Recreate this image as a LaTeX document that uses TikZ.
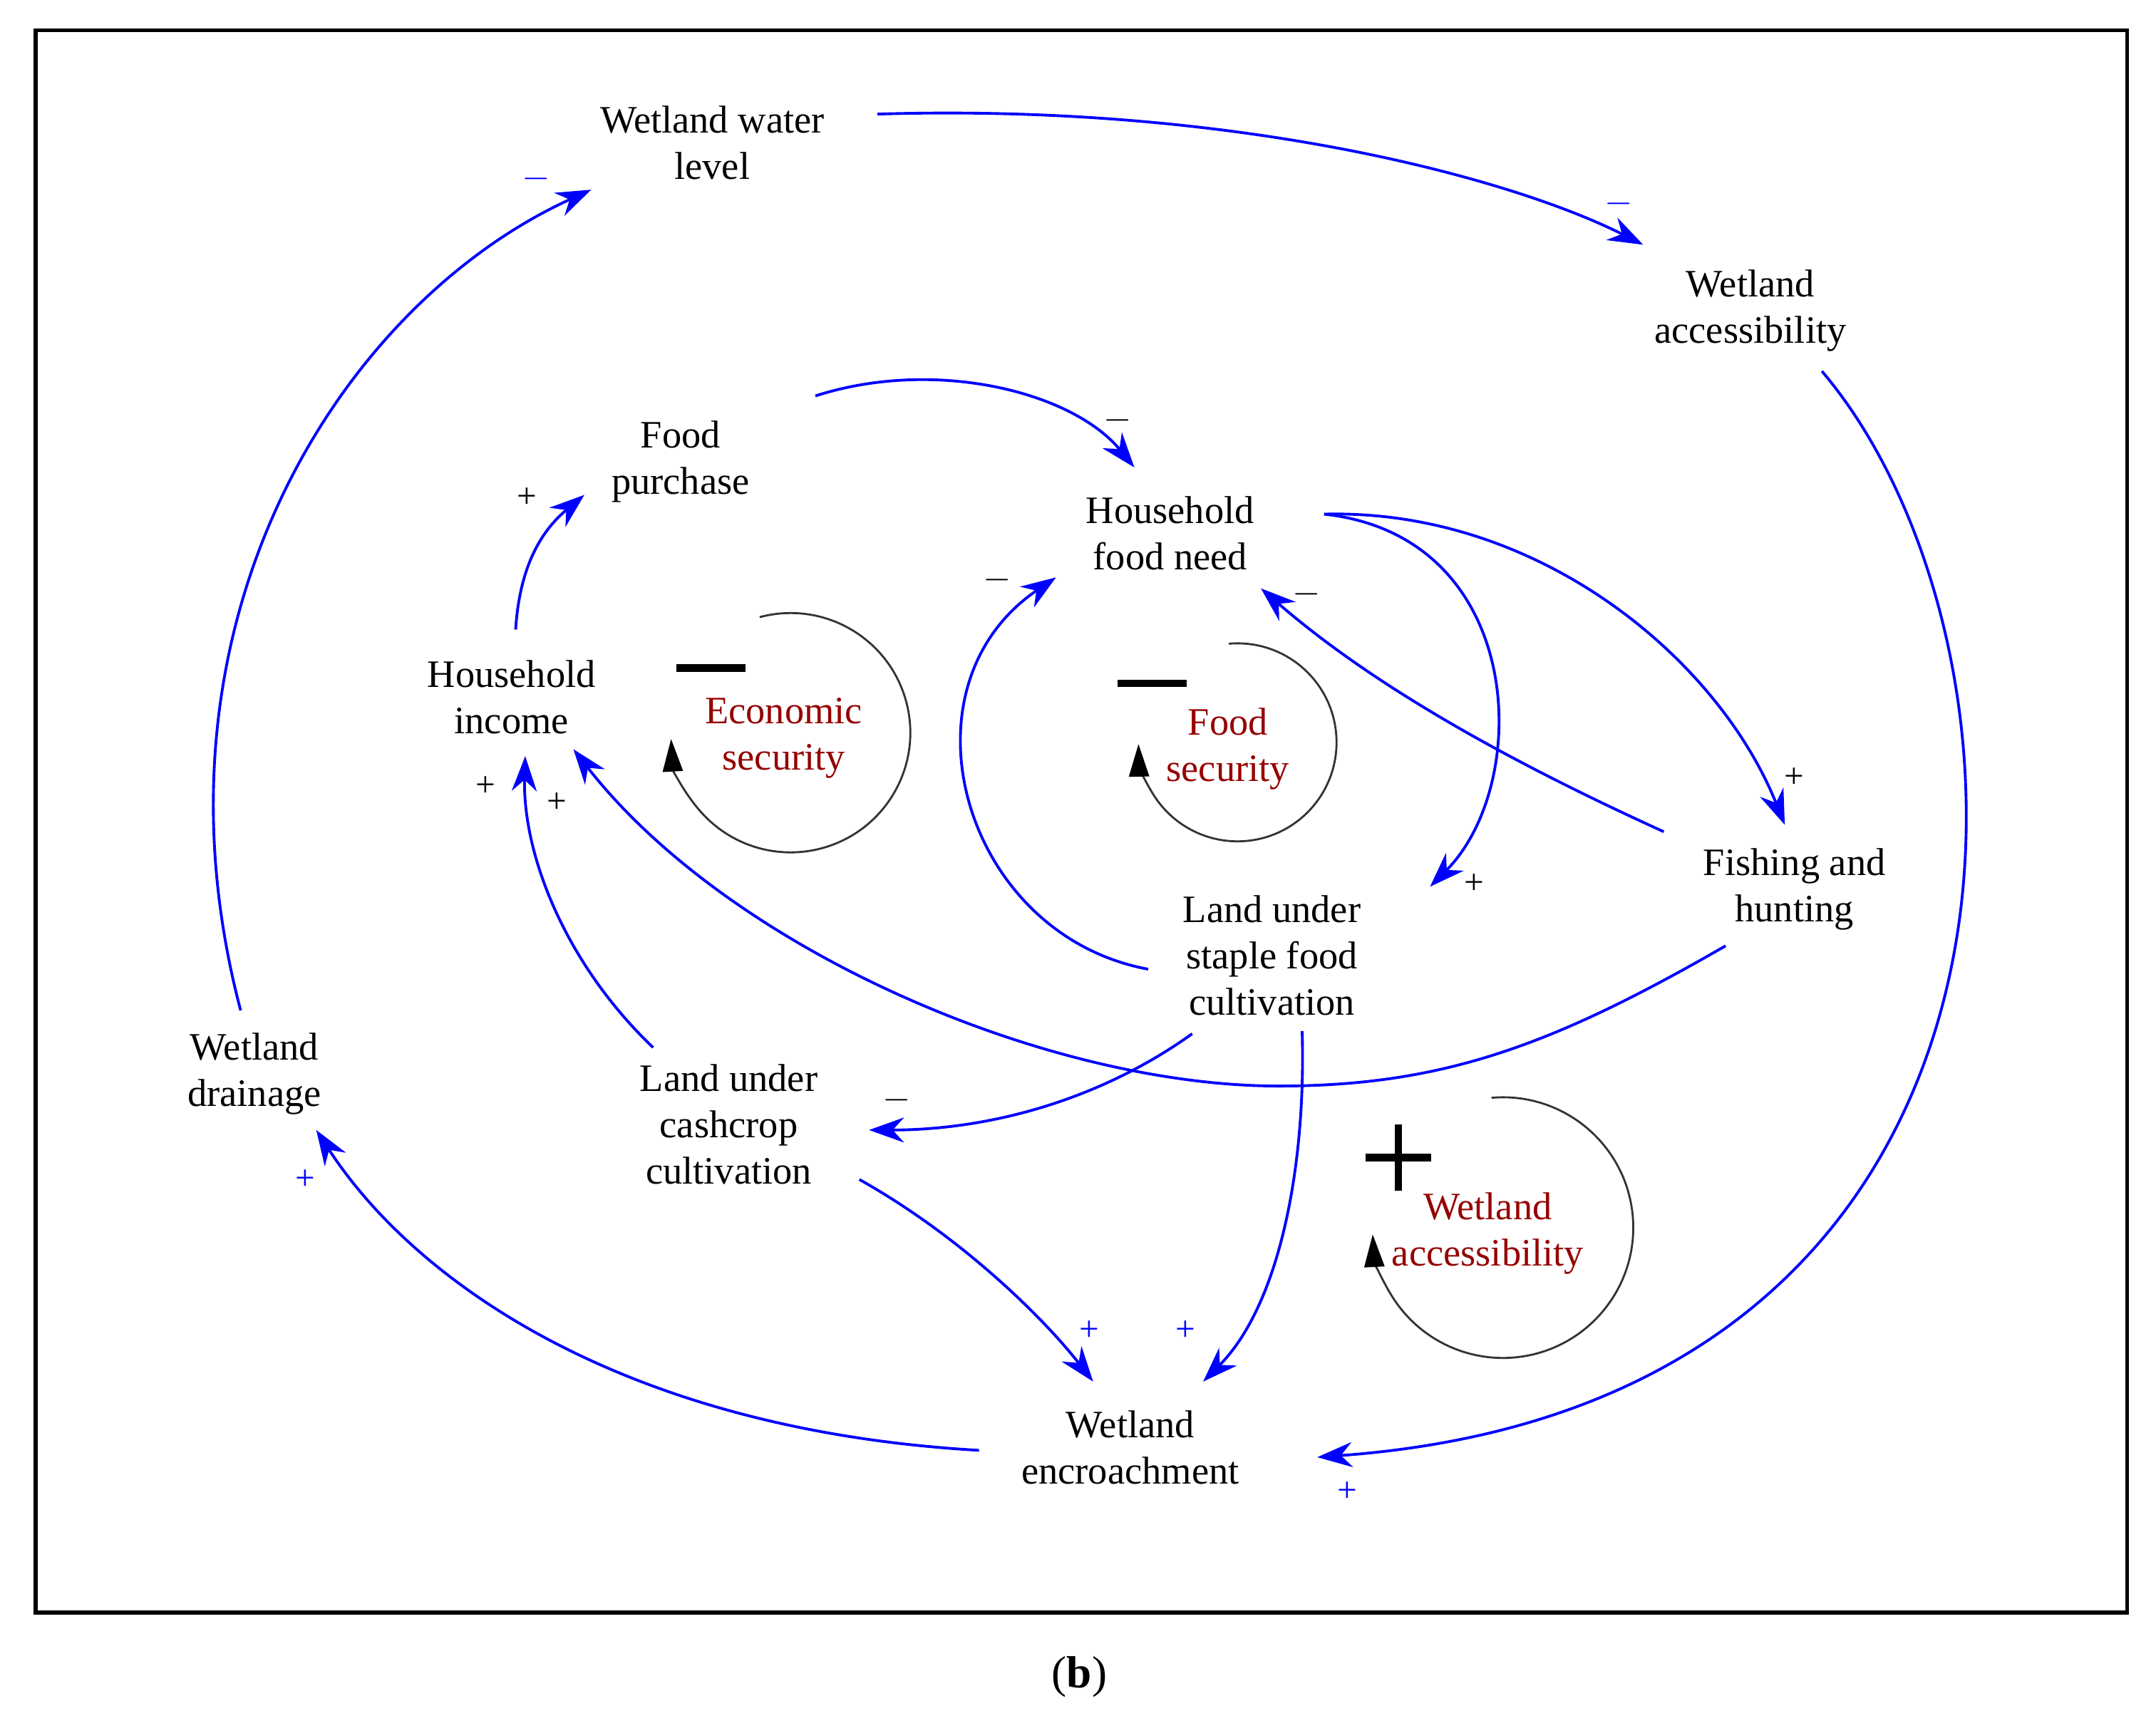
\documentclass[tikz,border=0pt]{standalone}
\usepackage{fontspec}
\setmainfont{Liberation Serif}
\usetikzlibrary{arrows.meta}
\begin{document}
\begin{tikzpicture}[x=0.0193cm,y=-0.0193cm,
  lab/.style={align=center,font=\fontsize{15.5}{18.5}\selectfont},
  loop/.style={align=center,font=\fontsize{15.5}{18.5}\selectfont,text={rgb,255:red,150;green,0;blue,0}},
  con/.style={draw=blue,line width=1.1pt,-{Stealth[length=14pt,width=10pt]}},
  pb/.style={text=blue,font=\fontsize{14}{14}\selectfont},
  pk/.style={text=black,font=\fontsize{14}{14}\selectfont},
  circ/.style={draw=black!80,line width=0.8pt,-{Triangle[length=13pt,width=8pt,fill=black,color=black]}}]
\useasboundingbox (0,0) rectangle (1568,1253);
\draw[line width=1.6pt] (26,22) rectangle (1547,1173);
\node[font=\fontsize{18}{18}\selectfont] at (785,1220) {(\textbf{b})};
% nodes
\node[lab] (wl) at (518,104) {Wetland water\\level};
\node[lab] (wa) at (1273,226) {Wetland\\accessibility};
\node[lab] (fp) at (495,336) {Food\\purchase};
\node[lab] (hfn) at (851,388) {Household\\food need};
\node[lab] (hi) at (372,507) {Household\\income};
\node[lab] (fh) at (1305,647) {Fishing and\\hunting};
\node[lab] (ls) at (925,695) {Land under\\staple food\\cultivation};
\node[lab] (wd) at (185,781) {Wetland\\drainage};
\node[lab] (lc) at (530,818) {Land under\\cashcrop\\cultivation};
\node[lab] (we) at (822,1053) {Wetland\\encroachment};
% endpoints
\coordinate (a1) at (638,83); \coordinate (b1) at (1195,178);
\coordinate (a2) at (1325,270); \coordinate (b2) at (958,1060);
\coordinate (a3) at (712,1055); \coordinate (b3) at (230,822);
\coordinate (a4) at (175,735); \coordinate (b4) at (430,138);
\coordinate (a5) at (593,288); \coordinate (b5) at (825,340);
\coordinate (a6) at (375,458); \coordinate (b6) at (425,360);
\coordinate (a7) at (963,374); \coordinate (b7) at (1040,645);
\coordinate (b8) at (1298,600);
\coordinate (a9) at (1210,605); \coordinate (b9) at (917,428);
\coordinate (a10) at (835,705); \coordinate (b10) at (768,420);
\coordinate (a11) at (1255,688); \coordinate (m11) at (930,790); \coordinate (b11) at (417,545);
\coordinate (a12) at (867,752); \coordinate (b12) at (632,822);
\coordinate (a13) at (475,762); \coordinate (b13) at (382,550);
\coordinate (a14) at (625,858); \coordinate (b14) at (795,1005);
\coordinate (a15) at (947,750); \coordinate (b15) at (875,1005);
% connectors
\draw[con] (a1) .. controls (900,75) and (1100,130) .. (b1);
\draw[con] (a2) .. controls (1495,470) and (1510,1020) .. (b2);
\draw[con] (a3) .. controls (450,1040) and (300,930) .. (b3);
\draw[con] (a4) .. controls (100,450) and (250,220) .. (b4);
\draw[con] (a5) .. controls (680,260) and (780,285) .. (b5);
\draw[con] (a6) .. controls (378,410) and (395,385) .. (b6);
\draw[con] (a7) .. controls (1110,390) and (1115,570) .. (b7);
\draw[con] (a7) .. controls (1120,370) and (1250,480) .. (b8);
\draw[con] (a9) .. controls (1100,555) and (1000,500) .. (b9);
\draw[con] (a10) .. controls (700,680) and (650,500) .. (b10);
\draw[con] (a11) .. controls (1130,760) and (1050,790) .. (m11) .. controls (760,790) and (530,690) .. (b11);
\draw[con] (a12) .. controls (800,800) and (720,822) .. (b12);
\draw[con] (a13) .. controls (410,700) and (380,620) .. (b13);
\draw[con] (a14) .. controls (700,900) and (760,960) .. (b14);
\draw[con] (a15) .. controls (950,850) and (930,950) .. (b15);
% polarities
\node[pb] at (1177,148) {$-$}; \node[pb] at (390,130) {$-$};
\node[pb] at (980,1085) {+}; \node[pb] at (222,858) {+};
\node[pb] at (792,968) {+}; \node[pb] at (862,968) {+};
\node[pk] at (813,306) {$-$}; \node[pk] at (383,362) {+};
\node[pk] at (725,422) {$-$}; \node[pk] at (950,432) {$-$};
\node[pk] at (1305,566) {+}; \node[pk] at (1072,643) {+};
\node[pk] at (353,572) {+}; \node[pk] at (405,584) {+};
\node[pk] at (652,800) {$-$};
% loops
\coordinate (c1) at (575,533); \coordinate (c2) at (900,540); \coordinate (c3) at (1093,893);
\draw[circ] ([shift={(105:1.68cm)}]c1) arc[start angle=105,end angle=-177,radius=1.68cm];
\draw[circ] ([shift={(95:1.39cm)}]c2) arc[start angle=95,end angle=-179,radius=1.39cm];
\draw[circ] ([shift={(95:1.83cm)}]c3) arc[start angle=95,end angle=-177,radius=1.83cm];
\draw[line width=3pt] (492,486) -- (542,486);
\draw[line width=3pt] (813,497) -- (863,497);
\draw[line width=3pt] (993,842) -- (1041,842) (1017,818) -- (1017,866);
\node[loop] at (570,537) {Economic\\security};
\node[loop] at (893,545) {Food\\security};
\node[loop] at (1082,897) {Wetland\\accessibility};
\end{tikzpicture}
\end{document}
